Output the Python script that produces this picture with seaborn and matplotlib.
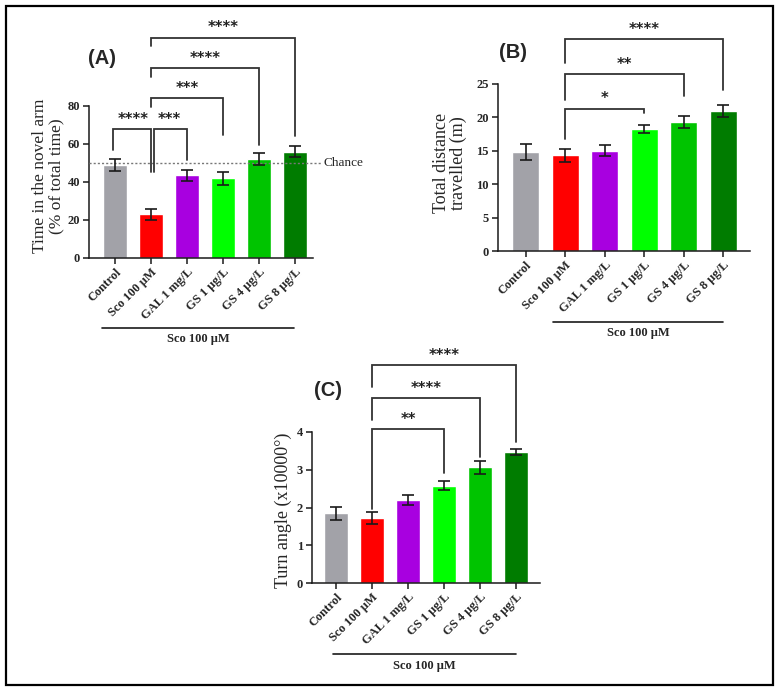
import matplotlib
matplotlib.use("Agg")
import matplotlib.pyplot as plt
import matplotlib.transforms as mtransforms
from matplotlib.patches import Rectangle
import seaborn as sns
import pandas as pd

sns.set_theme(style="ticks")
plt.rcParams['font.family'] = ['Liberation Serif', 'DejaVu Serif']

categories = ["Control", "Sco 100 μM", "GAL 1 mg/L", "GS 1 μg/L", "GS 4 μg/L", "GS 8 μg/L"]
colors = ["#a2a2a8", "#ff0000", "#a800e0", "#00ff00", "#00c400", "#007c00"]

novel_arm_mean = [49, 23, 43.5, 42, 52, 56]
novel_arm_err = [3, 3, 3, 3.5, 3, 3]

distance_mean = [14.8, 14.3, 15.0, 18.2, 19.3, 20.9]
distance_err = [1.2, 1.0, 0.8, 0.6, 0.9, 0.9]

turn_mean = [1.85, 1.72, 2.2, 2.58, 3.06, 3.48]
turn_err = [0.17, 0.15, 0.13, 0.12, 0.18, 0.08]

# brackets: (i, j, height, leg_i_end, leg_j_end, stars, xoff_i)
brackets_A = [(0, 1, 68, 57, 45.5, "****", -0.05), (1, 2, 68, 45.5, 51.5, "***", 0.09),
              (1, 3, 84, 79.5, 64.5, "***", 0), (1, 4, 100, 95.5, 59.5, "****", 0),
              (1, 5, 116, 111.5, 64, "****", 0)]
brackets_B = [(1, 3, 21.3, 16.8, 20.7, "*", 0), (1, 4, 26.5, 22.6, 23.2, "**", 0),
              (1, 5, 31.7, 28.1, 24.1, "****", 0)]
brackets_C = [(1, 3, 4.07, 1.95, 2.91, "**", 0), (1, 4, 4.9, 4.31, 3.33, "****", 0),
              (1, 5, 5.77, 5.19, 3.73, "****", 0)]

W, H = 781, 692
fig = plt.figure(figsize=(W / 100, H / 100), dpi=100)


def px_axes(left, right, bottom, top):
    return fig.add_axes([left / W, 1 - bottom / H, (right - left) / W, (bottom - top) / H])


def panel(ax, means, errs, ylim, yticks, xlim, brackets, title, title_xy):
    df = pd.DataFrame({"group": categories, "value": means})
    sns.barplot(data=df, x="group", y="value", hue="group", palette=colors,
                legend=False, width=0.68, ax=ax, errorbar=None, saturation=1)
    ax.errorbar(range(len(means)), means, yerr=errs, fmt="none", ecolor="#1a1a1a",
                elinewidth=1.2, capsize=4.5, capthick=1.2, zorder=5)
    ax.set_ylim(*ylim)
    ax.set_xlim(*xlim)
    ax.set_yticks(yticks)
    ax.set_xlabel("")
    ax.set_ylabel("")
    for s in ["top", "right"]:
        ax.spines[s].set_visible(False)
    for s in ["left", "bottom"]:
        ax.spines[s].set_linewidth(1.1)
        ax.spines[s].set_color("#1a1a1a")
    ax.tick_params(axis="both", direction="out", length=4, width=1.1, color="#1a1a1a")
    ax.tick_params(axis="y", pad=2.5)
    ax.set_xticks(range(len(categories)))
    ax.set_xticklabels(categories, rotation=45, ha="right", rotation_mode="anchor",
                       fontsize=9, fontweight="bold", family=['Liberation Serif', 'DejaVu Serif'])
    for lab in ax.get_yticklabels():
        lab.set_fontweight("bold")
        lab.set_fontsize(9)
    ax.tick_params(axis="x", pad=2)
    for (i, j, h, ei, ej, stars, xo) in brackets:
        ax.plot([i + xo, i + xo, j, j], [ei, h, h, ej], color="#333333", lw=1.3,
                clip_on=False, zorder=4, solid_joinstyle="miter")
        ax.annotate(stars, xy=((i + j) / 2, h), xytext=(0, 7), textcoords="offset points",
                    ha="center", va="center", fontsize=10.5, fontweight="bold",
                    family="DejaVu Sans", color="#222222", annotation_clip=False)
    fig.text(title_xy[0] / W, 1 - title_xy[1] / H, title, ha="center", va="center",
             fontsize=14.5, fontweight="bold", family="Liberation Sans")


def under_line(ax, x0, x1, y_line, y_text):
    tr = mtransforms.blended_transform_factory(ax.transData, ax.transAxes)
    ax.plot([x0, x1], [y_line, y_line], color="#1a1a1a", lw=1.2, transform=tr, clip_on=False)
    ax.text((x0 + x1) / 2, y_text, "Sco 100 μM", transform=tr, ha="center", va="center",
            fontsize=9, fontweight="bold")


# Panel A
axA = px_axes(89, 313, 258, 106)
panel(axA, novel_arm_mean, novel_arm_err, (0, 80), [0, 20, 40, 60, 80], (-0.72, 5.5),
      brackets_A, "(A)", (102, 58))
axA.plot([-0.72, 5.75], [50, 50], ls=(0, (1.5, 1.5)), color="#777777", lw=1.0,
         clip_on=False, zorder=3)
axA.text(5.8, 50, "Chance", ha="left", va="center", fontsize=9.5)
under_line(axA, -0.36, 4.97, -0.46, -0.53)
fig.text(48 / W, 1 - 176 / H, "Time in the novel arm\n(% of total time)", rotation=90,
         ha="center", va="center", fontsize=12.5, multialignment="center", linespacing=1.0)

# Panel B
axB = px_axes(498, 750, 251, 84)
panel(axB, distance_mean, distance_err, (0, 25), [0, 5, 10, 15, 20, 25], (-0.7, 5.68),
      brackets_B, "(B)", (513, 52))
under_line(axB, 0.68, 5.0, -0.425, -0.49)
fig.text(450 / W, 1 - 163 / H, "Total distance\ntravelled (m)", rotation=90,
         ha="center", va="center", fontsize=13, multialignment="center", linespacing=1.05)

# Panel C
axC = px_axes(312, 540, 583, 432)
panel(axC, turn_mean, turn_err, (0, 4), [0, 1, 2, 3, 4], (-0.67, 5.67),
      brackets_C, "(C)", (328, 390))
under_line(axC, -0.08, 5.0, -0.47, -0.55)
fig.text(283 / W, 1 - 510 / H, "Turn angle (x10000°)", rotation=90,
         ha="center", va="center", fontsize=13)

# outer frame
fig.patches.append(Rectangle((6 / W, 1 - 685 / H), 767 / W, 679 / H, fill=False,
                             edgecolor="black", lw=1.6, transform=fig.transFigure, zorder=10))

fig.savefig("out.png", dpi=100, facecolor="white")
